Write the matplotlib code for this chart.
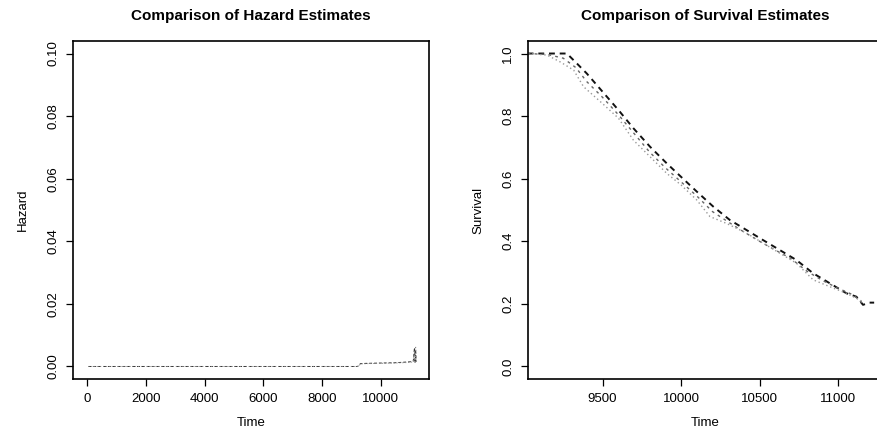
import matplotlib
matplotlib.use("Agg")
import matplotlib.pyplot as plt
from matplotlib.ticker import FormatStrFormatter

plt.rcParams["font.family"] = ["Liberation Sans", "DejaVu Sans"]

# Hazard estimates over the full time range
haz_time = [50, 9200, 9250, 9300, 9500, 10000, 10500, 11000, 11100, 11140, 11160, 11180, 11200]
haz_km = [0.0, 0.0, 0.0003, 0.0009, 0.0010, 0.0011, 0.0012, 0.0015, 0.0017, 0.0060, 0.0012, 0.0055, 0.0015]
haz_smooth = [0.0, 0.0, 0.0002, 0.0008, 0.0009, 0.0010, 0.0011, 0.0013, 0.0015, 0.0050, 0.0010, 0.0065, 0.0020]

# Survival estimates (upper, middle, lower curves)
surv_time_a = [9023, 9273, 9337, 9400, 9500, 9602, 9697, 9803, 9909, 10000, 10100, 10205,
               10311, 10417, 10502, 10629, 10735, 10841, 10947, 11053, 11117, 11159, 11201, 11230]
surv_a = [1.0, 1.0, 0.968, 0.936, 0.878, 0.819, 0.761, 0.702, 0.649, 0.606, 0.559, 0.511,
          0.468, 0.436, 0.410, 0.372, 0.340, 0.298, 0.266, 0.234, 0.223, 0.197, 0.204, 0.204]

surv_time_b = [9023, 9150, 9250, 9330, 9400, 9500, 9600, 9700, 9800, 9900, 10000, 10100,
               10200, 10300, 10400, 10500, 10600, 10700, 10800, 10900, 11000, 11100, 11160]
surv_b = [1.0, 0.997, 0.985, 0.955, 0.910, 0.860, 0.805, 0.745, 0.685, 0.635, 0.590, 0.545,
          0.495, 0.462, 0.430, 0.400, 0.372, 0.345, 0.305, 0.275, 0.250, 0.228, 0.200]

surv_time_c = [9023, 9146, 9231, 9316, 9379, 9500, 9602, 9697, 9803, 9909, 10000, 10100,
               10184, 10290, 10417, 10523, 10629, 10735, 10841, 10947, 11053, 11159]
surv_c = [1.0, 0.995, 0.973, 0.947, 0.894, 0.840, 0.793, 0.723, 0.670, 0.617, 0.580, 0.532,
          0.479, 0.457, 0.426, 0.394, 0.362, 0.330, 0.277, 0.255, 0.234, 0.207]

fig = plt.figure(figsize=(8.77, 4.32), dpi=100)
ax1 = fig.add_axes([0.0832, 0.1227, 0.4059, 0.7824])
ax2 = fig.add_axes([0.602, 0.1227, 0.4037, 0.7824])

ax1.plot(haz_time, haz_km, linestyle=(0, (3, 2)), color="#333333", lw=0.7)
ax1.plot(haz_time, haz_smooth, linestyle=(0, (1, 2)), color="#888888", lw=0.7)
ax1.set_xlim(-476, 11633)
ax1.set_ylim(-0.004, 0.104)
ax1.set_xticks([0, 2000, 4000, 6000, 8000, 10000])
ax1.set_yticks([0.0, 0.02, 0.04, 0.06, 0.08, 0.10])
ax1.yaxis.set_major_formatter(FormatStrFormatter("%.2f"))
ax1.set_title("Comparison of Hazard Estimates", fontsize=11, fontweight="bold", pad=15)
ax1.set_xlabel("Time", fontsize=9.5, labelpad=9)
ax1.set_ylabel("Hazard", fontsize=9.5, labelpad=13)

ax2.plot(surv_time_a, surv_a, linestyle=(0, (3, 2.5)), color="#111111", lw=1.4)
ax2.plot(surv_time_b, surv_b, linestyle=(0, (2, 3)), color="#666666", lw=1.0)
ax2.plot(surv_time_c, surv_c, linestyle=(0, (1, 2)), color="#999999", lw=1.0)
ax2.set_xlim(9025, 11280)
ax2.set_ylim(-0.04, 1.04)
ax2.set_xticks([9500, 10000, 10500, 11000])
ax2.set_yticks([0.0, 0.2, 0.4, 0.6, 0.8, 1.0])
ax2.yaxis.set_major_formatter(FormatStrFormatter("%.1f"))
ax2.set_title("Comparison of Survival Estimates", fontsize=11, fontweight="bold", pad=15)
ax2.set_xlabel("Time", fontsize=9.5, labelpad=9)
ax2.set_ylabel("Survival", fontsize=9.5, labelpad=13)

for ax in (ax1, ax2):
    ax.tick_params(axis="both", direction="out", length=5, width=0.9, labelsize=9.5)
    ax.tick_params(axis="y", labelrotation=90, pad=5)
    ax.tick_params(axis="x", pad=5)
    for lab in ax.get_yticklabels():
        lab.set_va("center")
    for sp in ax.spines.values():
        sp.set_linewidth(1.2)

fig.savefig("out.png", dpi=100)
